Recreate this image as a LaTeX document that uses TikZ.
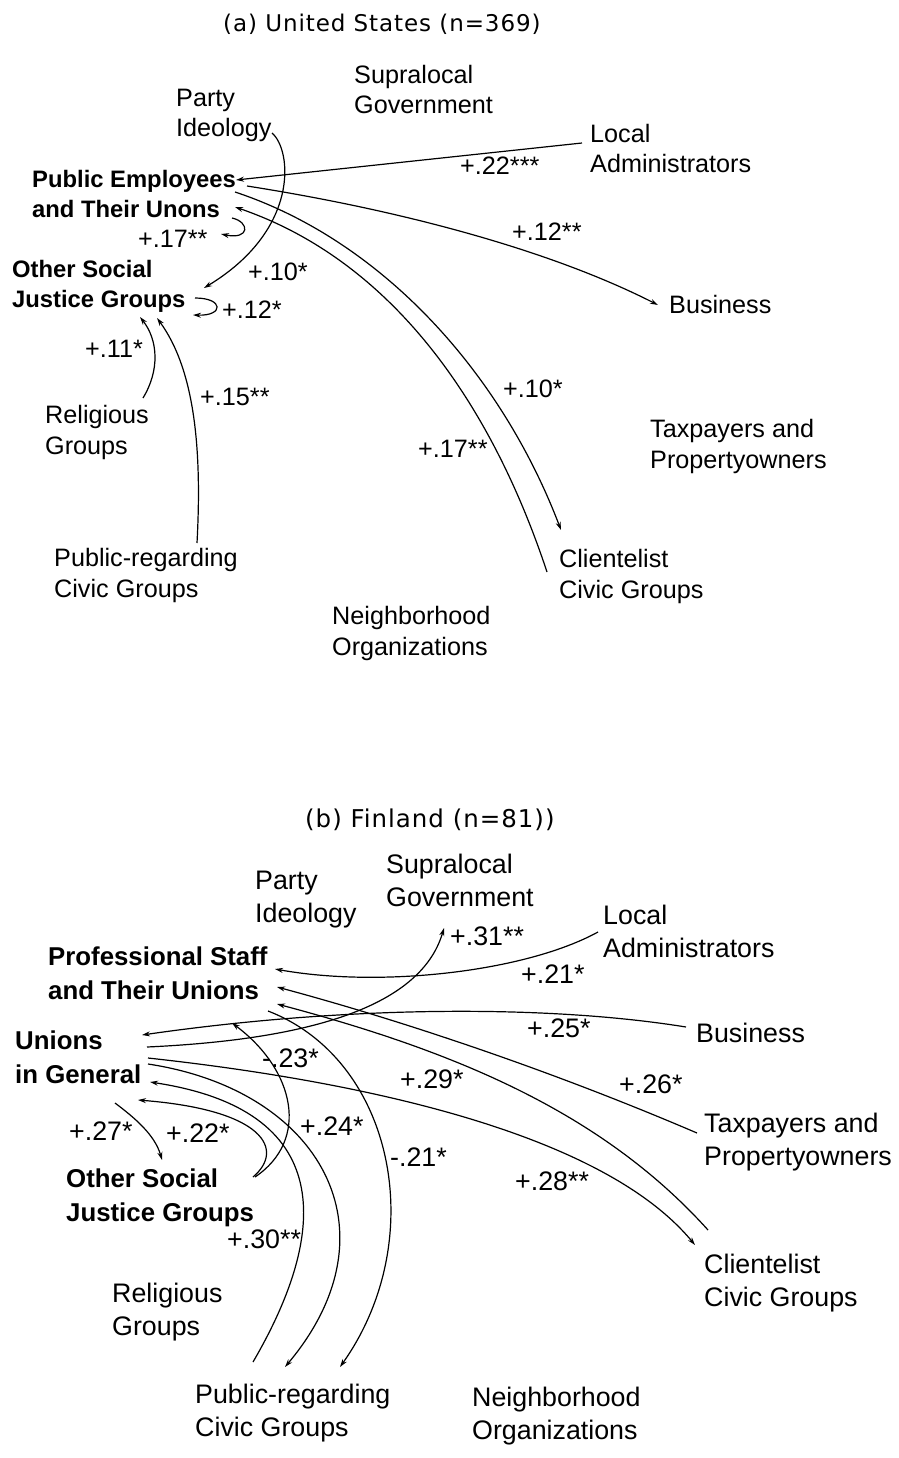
\documentclass[tikz,border=0pt]{standalone}
\usepackage{fontspec}
\setmainfont{Liberation Sans}
\newfontfamily\titlefont[LetterSpace=4]{DejaVu Sans}
\usetikzlibrary{arrows.meta}
\begin{document}
\begin{tikzpicture}[x=1pt,y=-1pt,
  txt/.style={inner sep=0pt, anchor=base west, align=left},
  ta/.style={txt, font=\fontsize{25.2}{30.5}\selectfont},
  tab/.style={txt, font=\fontsize{23.8}{30}\selectfont\bfseries},
  tb/.style={txt, font=\fontsize{26.8}{33}\selectfont},
  tbb/.style={txt, font=\fontsize{25.8}{33.5}\selectfont\bfseries},
  ttla/.style={txt, font=\titlefont\fontsize{23}{28}\selectfont},
  ttlb/.style={txt, font=\titlefont\fontsize{24.5}{28}\selectfont},
  conn/.style={line width=1.2pt},
  arr/.style={conn, -{Stealth[length=8pt,width=5pt]}}
]
\fill[white] (0,0) rectangle (898,1458);
\useasboundingbox (0,0) rectangle (898,1458);

% ---------------- (a) United States ----------------
% multi-line nodes: anchor base = baseline of the last line
\node[ttla] (titleA) at (223,32) {(a) United States (n=369)};
\node[ta] (party) at (176,137) {Party\\Ideology};
\node[ta] (supra) at (354,114) {Supralocal\\Government};
\node[ta] (local) at (590,173) {Local\\Administrators};
\node[tab] (pe) at (32,218) {Public Employees\\and Their Unons};
\node[tab] (osj) at (12,307) {Other Social\\Justice Groups};
\node[ta] (rel) at (45,454) {Religious\\Groups};
\node[ta] (prc) at (54,597) {Public-regarding\\Civic Groups};
\node[ta] (bus) at (669,313) {Business};
\node[ta] (tax) at (650,468) {Taxpayers and\\Propertyowners};
\node[ta] (cli) at (559,598) {Clientelist\\Civic Groups};
\node[ta] (nbh) at (332,655) {Neighborhood\\Organizations};

\coordinate (party-o) at (272,133);
\coordinate (osj-i1) at (204,288);
\coordinate (local-o) at (582,143);
\coordinate (pe-i1) at (236,180);
\coordinate (pe-o1) at (247,186);
\coordinate (bus-i) at (658,305);
\coordinate (pe-o2) at (235,192);
\coordinate (cli-i) at (561,530);
\coordinate (cli-o) at (547,572);
\coordinate (pe-i2) at (235,207);
\coordinate (pe-l1) at (232,218);
\coordinate (pe-l2) at (221,234);
\coordinate (osj-l1) at (195,298);
\coordinate (osj-l2) at (193,315);
\coordinate (rel-o) at (143,398);
\coordinate (osj-i2) at (140,317);
\coordinate (prc-o) at (197,543);
\coordinate (osj-i3) at (157,318);

\draw[arr] (party-o) .. controls (292,150) and (300,230) .. (osj-i1);
\draw[arr] (local-o) -- (pe-i1);
\draw[arr] (pe-o1) .. controls (400,210) and (550,250) .. (bus-i);
\draw[arr] (pe-o2) .. controls (380,240) and (500,370) .. (cli-i);
\draw[arr] (cli-o) .. controls (490,400) and (390,260) .. (pe-i2);
\draw[arr] (pe-l1) .. controls (250,222) and (250,240) .. (pe-l2);
\draw[arr] (osj-l1) .. controls (224,298) and (224,316) .. (osj-l2);
\draw[arr] (rel-o) .. controls (160,370) and (158,340) .. (osj-i2);
\draw[arr] (prc-o) .. controls (202,450) and (195,370) .. (osj-i3);

\node[ta] (la1) at (248,280) {+.10*};
\node[ta] (la2) at (460,175) {+.22***};
\node[ta] (la3) at (512,240) {+.12**};
\node[ta] (la4) at (503,397) {+.10*};
\node[ta] (la5) at (418,457) {+.17**};
\node[ta] (la6) at (138,247) {+.17**};
\node[ta] (la7) at (222,318) {+.12*};
\node[ta] (la8) at (85,357) {+.11*};
\node[ta] (la9) at (200,405) {+.15**};

% ---------------- (b) Finland ----------------
\node[ttlb] (titleB) at (305,827) {(b) Finland (n=81))};
\node[tb] (party2) at (255,922) {Party\\Ideology};
\node[tb] (supra2) at (386,906) {Supralocal\\Government};
\node[tb] (local2) at (603,957) {Local\\Administrators};
\node[tbb] (prof) at (48,999) {Professional Staff\\and Their Unions};
\node[tbb] (ung) at (15,1083) {Unions\\in General};
\node[tbb] (osj2) at (66,1221) {Other Social\\Justice Groups};
\node[tb] (rel2) at (112,1335) {Religious\\Groups};
\node[tb] (prc2) at (195,1436) {Public-regarding\\Civic Groups};
\node[tb] (nbh2) at (472,1439) {Neighborhood\\Organizations};
\node[tb] (bus2) at (696,1042) {Business};
\node[tb] (tax2) at (704,1165) {Taxpayers and\\Propertyowners};
\node[tb] (cli2) at (704,1306) {Clientelist\\Civic Groups};

\coordinate (local2-o) at (598,932);
\coordinate (prof-i1) at (275,969);
\coordinate (bus2-o) at (686,1027);
\coordinate (ung-i1) at (142,1035);
\coordinate (ung-o1) at (147,1047);
\coordinate (supra2-i) at (444,928);
\coordinate (tax2-o) at (697,1133);
\coordinate (prof-i2) at (277,987);
\coordinate (cli2-o) at (708,1230);
\coordinate (prof-i3) at (277,1004);
\coordinate (ung-o2) at (148,1058);
\coordinate (cli2-i) at (695,1245);
\coordinate (ung-o3) at (148,1064);
\coordinate (prc2-i1) at (285,1367);
\coordinate (prof-o) at (268,1011);
\coordinate (prc2-i2) at (340,1367);
\coordinate (prc2-o) at (253,1362);
\coordinate (ung-i2) at (150,1082);
\coordinate (osj2-o1) at (253,1177);
\coordinate (ung-i3) at (138,1100);
\coordinate (ung-o4) at (115,1103);
\coordinate (osj2-i) at (162,1160);
\coordinate (osj2-o2) at (255,1177);
\coordinate (prof-i4) at (232,1023);

\draw[arr] (local2-o) .. controls (525,972) and (380,988) .. (prof-i1);
\draw[arr] (bus2-o) .. controls (550,1005) and (350,1005) .. (ung-i1);
\draw[arr] (ung-o1) .. controls (300,1040) and (420,1010) .. (supra2-i);
\draw[arr] (tax2-o) .. controls (550,1070) and (400,1020) .. (prof-i2);
\draw[arr] (cli2-o) .. controls (600,1110) and (450,1050) .. (prof-i3);
\draw[arr] (ung-o2) .. controls (350,1080) and (600,1130) .. (cli2-i);
\draw[arr] (ung-o3) .. controls (320,1090) and (400,1230) .. (prc2-i1);
\draw[arr] (prof-o) .. controls (395,1060) and (430,1240) .. (prc2-i2);
\draw[arr] (prc2-o) .. controls (330,1230) and (335,1110) .. (ung-i2);
\draw[arr] (osj2-o1) .. controls (285,1150) and (265,1110) .. (ung-i3);
\draw[arr] (ung-o4) .. controls (135,1118) and (155,1135) .. (osj2-i);
\draw[arr] (osj2-o2) .. controls (310,1140) and (295,1070) .. (prof-i4);

\node[tb] (lb1) at (450,945) {+.31**};
\node[tb] (lb2) at (521,983) {+.21*};
\node[tb] (lb3) at (527,1037) {+.25*};
\node[tb] (lb4) at (400,1088) {+.29*};
\node[tb] (lb5) at (619,1093) {+.26*};
\node[tb] (lb6) at (515,1190) {+.28**};
\node[tb] (lb7) at (262,1067) {-.23*};
\node[tb] (lb8) at (300,1135) {+.24*};
\node[tb] (lb9) at (390,1166) {-.21*};
\node[tb] (lb10) at (69,1140) {+.27*};
\node[tb] (lb11) at (166,1142) {+.22*};
\node[tb] (lb12) at (227,1248) {+.30**};
\end{tikzpicture}
\end{document}
